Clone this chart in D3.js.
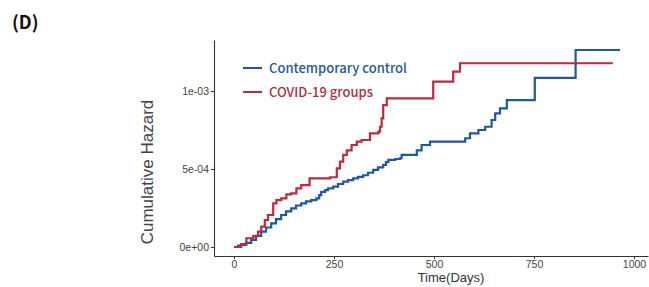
<!DOCTYPE html>
<html>
<head>
<meta charset="utf-8">
<script src="https://cdn.jsdelivr.net/npm/d3@7"></script>
<style>
  body { margin: 0; background: #fff; }
  svg { display: block; }
</style>
</head>
<body>
<script>
var width = 649;
var height = 287;

// step points (days, cumulative hazard)
var controlDays = [0, 10, 18, 30, 43, 55, 68, 80, 93, 105, 118, 130, 143, 155, 168, 180, 193, 206, 213, 218, 228, 235, 248, 260, 273, 285, 298, 310, 323, 335, 348, 360, 373, 380, 386, 403, 415, 419, 448, 457, 469, 490, 578, 590, 611, 628, 644, 653, 665, 682, 752, 854, 965];
var controlHaz = [0, 0.0096e-3, 0.013e-3, 0.026e-3, 0.045e-3, 0.071e-3, 0.098e-3, 0.125e-3, 0.152e-3, 0.179e-3, 0.205e-3, 0.228e-3, 0.248e-3, 0.266e-3, 0.28e-3, 0.292e-3, 0.30e-3, 0.312e-3, 0.333e-3, 0.354e-3, 0.365e-3, 0.376e-3, 0.387e-3, 0.404e-3, 0.419e-3, 0.429e-3, 0.44e-3, 0.449e-3, 0.46e-3, 0.476e-3, 0.494e-3, 0.51e-3, 0.526e-3, 0.545e-3, 0.558e-3, 0.564e-3, 0.569e-3, 0.59e-3, 0.59e-3, 0.62e-3, 0.654e-3, 0.675e-3, 0.697e-3, 0.729e-3, 0.75e-3, 0.771e-3, 0.814e-3, 0.857e-3, 0.889e-3, 0.942e-3, 1.084e-3, 1.263e-3, 1.263e-3];

var covidDays = [0, 18, 31, 48, 60, 68, 77, 85, 98, 106, 118, 131, 143, 156, 168, 189, 240, 257, 265, 273, 282, 294, 307, 319, 340, 361, 365, 369, 373, 382, 498, 548, 565, 947];
var covidHaz = [0, 0.019e-3, 0.056e-3, 0.07e-3, 0.098e-3, 0.13e-3, 0.173e-3, 0.205e-3, 0.28e-3, 0.30e-3, 0.312e-3, 0.338e-3, 0.344e-3, 0.376e-3, 0.397e-3, 0.44e-3, 0.447e-3, 0.504e-3, 0.547e-3, 0.59e-3, 0.62e-3, 0.654e-3, 0.675e-3, 0.686e-3, 0.729e-3, 0.739e-3, 0.771e-3, 0.825e-3, 0.91e-3, 0.953e-3, 1.06e-3, 1.124e-3, 1.178e-3, 1.178e-3];

var xTicks = [0, 250, 500, 750, 1000];
var yTicks = [0, 5e-4, 1e-3];
var yTickLabels = ["0e+00", "5e-04", "1e-03"];

var seriesNames = ["Contemporary control", "COVID-19 groups"];
var seriesColors = ["#1c58a5", "#c0283d"];

var svg = d3.select("body")
  .append("svg")
  .attr("width", width)
  .attr("height", height);

var x = d3.scaleLinear().domain([-50, 1035]).range([214, 648]);
var y = d3.scaleLinear().domain([-0.0577e-3, 1.327e-3]).range([256, 40]);

// axes
var xAxis = d3.axisBottom(x).tickValues(xTicks).tickSize(3).tickPadding(2).tickSizeOuter(0)
  .tickFormat(d3.format("d"));
var yAxis = d3.axisLeft(y).tickValues(yTicks).tickSize(3).tickPadding(2).tickSizeOuter(0)
  .tickFormat(function(d, i) { return yTickLabels[i]; });

var gx = svg.append("g")
  .attr("transform", "translate(0," + y.range()[0] + ")")
  .call(xAxis);
var gy = svg.append("g")
  .attr("transform", "translate(" + x.range()[0] + ",0)")
  .call(yAxis);

[gx, gy].forEach(function(g) {
  g.select(".domain").attr("stroke", "#333").attr("stroke-width", 1.1);
  g.selectAll(".tick line").attr("stroke", "#333");
  g.selectAll(".tick text")
    .attr("fill", "#444")
    .style("font-family", "Liberation Sans, Arial, sans-serif")
    .style("font-size", "10.5px");
});

// curves
var line = d3.line()
  .x(function(d) { return x(d[0]); })
  .y(function(d) { return y(d[1]); })
  .curve(d3.curveStepAfter);

var series = [
  d3.zip(controlDays, controlHaz),
  d3.zip(covidDays, covidHaz)
];

svg.selectAll(".km")
  .data(series)
  .enter().append("path")
  .attr("class", "km")
  .attr("d", line)
  .attr("fill", "none")
  .attr("stroke", function(d, i) { return seriesColors[i]; })
  .attr("stroke-width", 2.2);

// legend
var legend = svg.selectAll(".legend")
  .data(seriesNames)
  .enter().append("g")
  .attr("class", "legend")
  .attr("transform", function(d, i) { return "translate(243," + (68 + i * 24) + ")"; });

legend.append("line")
  .attr("x1", 0).attr("x2", 19)
  .attr("stroke", function(d, i) { return seriesColors[i]; })
  .attr("stroke-width", 2);

legend.append("text")
  .attr("x", 26)
  .attr("dy", "0.36em")
  .attr("fill", function(d, i) { return seriesColors[i]; })
  .style("font-family", "Noto Sans CJK SC, Noto Sans, sans-serif")
  .style("font-size", "13px")
  .style("font-weight", 500)
  .text(function(d) { return d; });

// titles
svg.append("text")
  .attr("transform", "translate(153,172) rotate(-90)")
  .attr("text-anchor", "middle")
  .attr("fill", "#444")
  .style("font-family", "Liberation Sans, Arial, sans-serif")
  .style("font-size", "17px")
  .text("Cumulative Hazard");

svg.append("text")
  .attr("x", 451)
  .attr("y", 282)
  .attr("text-anchor", "middle")
  .attr("fill", "#333")
  .style("font-family", "Liberation Sans, Arial, sans-serif")
  .style("font-size", "13px")
  .text("Time(Days)");

svg.append("text")
  .attr("x", 12)
  .attr("y", 29)
  .attr("fill", "#111")
  .style("font-family", "Noto Sans CJK SC, Noto Sans, sans-serif")
  .style("font-size", "18px")
  .style("font-weight", "bold")
  .text("(D)");
</script>
</body>
</html>
